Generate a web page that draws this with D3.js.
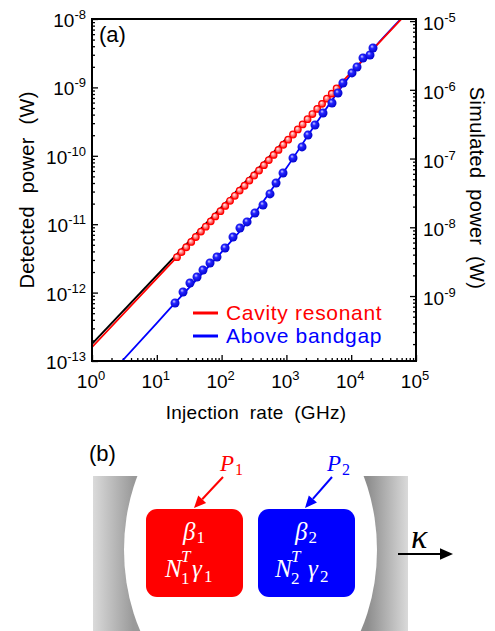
<!DOCTYPE html>
<meta charset="utf-8">
<script src="https://cdn.jsdelivr.net/npm/d3@7"></script>
<style>
    body { margin: 0; background: #fff; }
    text { font-family: "Liberation Sans", Arial, sans-serif; }
</style>
<body>
<svg width="495" height="631"></svg>
</body>
<script>

    // 测量值：腔共振激发（红点），探测功率 (W)
    var redX = [20.5, 24, 28.5, 34, 40, 48, 57, 68, 80, 96, 114, 135, 160, 190, 226, 268, 318, 378,
        450, 535, 635, 755, 895, 1065, 1265, 1500, 1780, 2120, 2520, 2990, 3550, 4220, 5010, 5950];
    var redY = [3.3e-12, 3.9e-12, 4.6e-12, 5.5e-12, 6.5e-12, 7.8e-12, 9.2e-12, 1.1e-11, 1.3e-11, 1.55e-11,
        1.85e-11, 2.2e-11, 2.6e-11, 3.1e-11, 3.65e-11, 4.35e-11, 5.15e-11, 6.1e-11, 7.3e-11, 8.65e-11,
        1.03e-10, 1.22e-10, 1.45e-10, 1.72e-10, 2.05e-10, 2.43e-10, 2.88e-10, 3.43e-10, 4.08e-10,
        4.85e-10, 5.75e-10, 6.85e-10, 8.1e-10, 9.65e-10];

    // 测量值：带隙以上激发（蓝点）
    var blueX = [19.1, 25.4, 32.5, 41.7, 51.6, 66.2, 84.9, 113, 150, 192, 247, 327, 436, 558, 692, 887,
        1265, 1742, 2153, 2761, 3673, 5058, 6252, 7464, 10280, 12300, 15200, 19500, 21700];
    var blueY = [7.05e-13, 1.02e-12, 1.38e-12, 1.69e-12, 2.14e-12, 2.71e-12, 3.31e-12, 4.49e-12, 6.5e-12,
        8.79e-12, 1.08e-11, 1.46e-11, 1.91e-11, 2.77e-11, 4.0e-11, 5.61e-11, 9.29e-11, 1.35e-10,
        2.01e-10, 2.82e-10, 4.23e-10, 5.92e-10, 8.28e-10, 1.16e-9, 1.63e-9, 1.99e-9, 2.69e-9,
        2.98e-9, 3.77e-9];

    // 模拟曲线（右轴）
    var redSimX = [1, 10, 100, 1000, 10000, 100000];
    var redSimY = [1.8e-10, 1.8e-9, 1.8e-8, 1.8e-7, 1.8e-6, 1.8e-5];
    var blueSimX = [2.9, 10, 19, 100, 300, 1000, 3000, 10000, 30000, 100000];
    var blueSimY = [1.13e-10, 4.05e-10, 7.9e-10, 4.36e-9, 1.46e-8, 7.27e-8, 3.45e-7, 1.69e-6, 5.5e-6, 1.82e-5];

    // 线性参考线（左轴）
    var blackX = [1, 1000];
    var blackY = [1.78e-13, 1.78e-10];

    // 刻度
    var xTicks = [1, 10, 100, 1e3, 1e4, 1e5],
        xTickExp = ["0", "1", "2", "3", "4", "5"];
    var yLeftTicks = [1e-13, 1e-12, 1e-11, 1e-10, 1e-9, 1e-8],
        yLeftExp = ["-13", "-12", "-11", "-10", "-9", "-8"];
    var yRightTicks = [1e-9, 1e-8, 1e-7, 1e-6, 1e-5],
        yRightExp = ["-9", "-8", "-7", "-6", "-5"];

    var legendNames = ["Cavity resonant", "Above bandgap"],
        legendColors = ["#ff0000", "#0000ff"];

    var red = "#ff0000", blue = "#0000ff";

    var svg = d3.select("svg");
    var defs = svg.append("defs");

    var pL = 92, pR = 416, pT = 19, pB = 361;

    var x = d3.scaleLog().domain([1, 1e5]).range([pL, pR]);
    var yL = d3.scaleLog().domain([1e-13, 1e-8]).range([pB, pT]);
    var yR = d3.scaleLog().domain([Math.pow(10, -9.945), Math.pow(10, -4.97)]).range([pB, pT]);

    defs.append("clipPath").attr("id", "plotClip")
        .append("rect").attr("x", pL).attr("y", pT)
        .attr("width", pR - pL).attr("height", pB - pT);

    //球形点的渐变
    function ball(id, light, mid, dark, midOff) {
        var gr = defs.append("radialGradient").attr("id", id)
            .attr("cx", "45%").attr("cy", "45%").attr("r", "60%")
            .attr("fx", "38%").attr("fy", "32%");
        gr.append("stop").attr("offset", "0%").attr("stop-color", light);
        gr.append("stop").attr("offset", midOff).attr("stop-color", mid);
        gr.append("stop").attr("offset", "100%").attr("stop-color", dark);
    }
    ball("ballRed", "#fff0f0", "#ff9090", "#ff0000", "40%");
    ball("ballBlue", "#d0d0ff", "#2424ff", "#0000c8", "35%");

    // ---------- (b) 图：腔体示意 ----------
    var gB = svg.append("g");
    var gradL = defs.append("linearGradient").attr("id", "grayL");
    gradL.append("stop").attr("offset", "0%").attr("stop-color", "#dadada");
    gradL.append("stop").attr("offset", "65%").attr("stop-color", "#9a9a9a");
    var gradR = defs.append("linearGradient").attr("id", "grayR");
    gradR.append("stop").attr("offset", "35%").attr("stop-color", "#8e8e8e");
    gradR.append("stop").attr("offset", "100%").attr("stop-color", "#dadada");

    defs.append("clipPath").attr("id", "bClip")
        .append("rect").attr("x", 0).attr("y", 476).attr("width", 495).attr("height", 155);

    gB.append("rect").attr("x", 93).attr("y", 476).attr("width", 62).attr("height", 155).attr("fill", "url(#grayL)");
    gB.append("rect").attr("x", 346).attr("y", 476).attr("width", 62).attr("height", 155).attr("fill", "url(#grayR)");
    gB.append("ellipse").attr("clip-path", "url(#bClip)")
        .attr("cx", 250.5).attr("cy", 550).attr("rx", 126.5).attr("ry", 165).attr("fill", "#fff");

    var boxes = [
        {x: 146, c: red, n: "1", nx: 19, gx: 46},
        {x: 258, c: blue, n: "2", nx: 17, gx: 50}
    ];
    var serif = '"Liberation Serif", "Times New Roman", serif';
    boxes.forEach(function (b) {
        gB.append("rect").attr("x", b.x).attr("y", 509).attr("width", 97).attr("height", 88)
            .attr("rx", 11).attr("fill", b.c);
        var t1 = gB.append("text").attr("x", b.x + 48).attr("y", 540).attr("text-anchor", "middle")
            .attr("fill", "#fff").style("font-family", serif).attr("font-size", 25);
        t1.append("tspan").attr("font-style", "italic").text("β");
        t1.append("tspan").attr("font-size", 17).attr("dy", 3).attr("dx", 1).text(b.n);

        gB.append("text").attr("x", b.x + b.nx).attr("y", 577).attr("fill", "#fff")
            .style("font-family", serif).attr("font-size", 25).attr("font-style", "italic").text("N");
        gB.append("text").attr("x", b.x + b.nx + 16).attr("y", 562).attr("fill", "#fff")
            .style("font-family", serif).attr("font-size", 17).attr("font-style", "italic").text("T");
        gB.append("text").attr("x", b.x + b.nx + 16).attr("y", 584).attr("fill", "#fff")
            .style("font-family", serif).attr("font-size", 17).text(b.n);
        gB.append("text").attr("x", b.x + b.gx).attr("y", 577).attr("fill", "#fff")
            .style("font-family", serif).attr("font-size", 25).attr("font-style", "italic").text("γ");
        gB.append("text").attr("x", b.x + b.gx + 12).attr("y", 582).attr("fill", "#fff")
            .style("font-family", serif).attr("font-size", 17).text(b.n);
    });

    //箭头
    function arrow(x1, y1, x2, y2, color, w, head) {
        var ang = Math.atan2(y2 - y1, x2 - x1);
        var bx = x2 - head * Math.cos(ang), by = y2 - head * Math.sin(ang);
        gB.append("line").attr("x1", x1).attr("y1", y1).attr("x2", bx).attr("y2", by)
            .attr("stroke", color).attr("stroke-width", w);
        var hw = head * 0.45;
        var p = [[x2, y2],
            [bx + hw * Math.sin(ang), by - hw * Math.cos(ang)],
            [bx - hw * Math.sin(ang), by + hw * Math.cos(ang)]];
        gB.append("path").attr("d", "M" + p.join("L") + "Z").attr("fill", color);
    }
    arrow(223, 477, 194, 508, red, 2, 12);
    arrow(332, 477, 305, 508, blue, 2, 12);
    arrow(398, 554, 453, 554, "#000", 2, 13);

    [{x: 220, c: red, n: "1"}, {x: 327, c: blue, n: "2"}].forEach(function (p) {
        var t = gB.append("text").attr("x", p.x).attr("y", 471).attr("fill", p.c)
            .style("font-family", serif).attr("font-size", 23);
        t.append("tspan").attr("font-style", "italic").text("P");
        t.append("tspan").attr("font-size", 16).attr("dy", 4).attr("dx", 1).text(p.n);
    });
    gB.append("text").attr("x", 411).attr("y", 548).style("font-family", serif)
        .attr("font-size", 34).attr("font-style", "italic").text("κ");
    gB.append("text").attr("x", 89).attr("y", 461).attr("font-size", 22).text("(b)");

    // ---------- (a) 图 ----------
    var g = svg.append("g");

    //坐标轴（刻度朝内）
    var xMinor = x.ticks().filter(function (d) { return xTicks.indexOf(d) < 0; });
    var yLMinor = yL.ticks().filter(function (d) { return yLeftTicks.indexOf(d) < 0; });
    var yRMinor = yR.ticks().filter(function (d) { return yRightTicks.indexOf(d) < 0 && d < 1e-5; });

    function drawAxis(axis, tx, ty) {
        var a = g.append("g").attr("transform", "translate(" + tx + "," + ty + ")").call(axis);
        a.select(".domain").remove();
        a.selectAll("line").attr("stroke", "#000").attr("stroke-width", 1.3);
        return a;
    }
    drawAxis(d3.axisBottom(x).tickValues(xTicks).tickSize(-6).tickFormat(""), 0, pB);
    drawAxis(d3.axisBottom(x).tickValues(xMinor).tickSize(-3).tickFormat(""), 0, pB);
    drawAxis(d3.axisLeft(yL).tickValues(yLeftTicks).tickSize(-6).tickFormat(""), pL, 0);
    drawAxis(d3.axisLeft(yL).tickValues(yLMinor).tickSize(-3).tickFormat(""), pL, 0);
    drawAxis(d3.axisRight(yR).tickValues(yRightTicks).tickSize(-6).tickFormat(""), pR, 0);
    drawAxis(d3.axisRight(yR).tickValues(yRMinor).tickSize(-3).tickFormat(""), pR, 0);

    //刻度标签 10^n
    function powLabel(t, exp) {
        t.append("tspan").text("10");
        t.append("tspan").attr("dy", -8).attr("font-size", 13).text(exp);
    }
    xTicks.forEach(function (d, i) {
        var t = g.append("text").attr("x", x(d) - 1).attr("y", 388)
            .attr("text-anchor", "middle").attr("font-size", 19);
        powLabel(t, xTickExp[i]);
    });
    yLeftTicks.forEach(function (d, i) {
        var t = g.append("text").attr("x", 86).attr("y", yL(d) + 8)
            .attr("text-anchor", "end").attr("font-size", 19);
        powLabel(t, yLeftExp[i]);
    });
    yRightTicks.forEach(function (d, i) {
        var t = g.append("text").attr("x", 423).attr("y", yR(d) + 9)
            .attr("font-size", 19);
        powLabel(t, yRightExp[i]);
    });

    //轴标题
    g.append("text").attr("x", 256).attr("y", 419).attr("text-anchor", "middle")
        .attr("font-size", 19).style("word-spacing", "5px").style("letter-spacing", "0.3px")
        .text("Injection rate (GHz)");
    g.append("text").attr("transform", "translate(34,190) rotate(-90)").attr("text-anchor", "middle")
        .attr("font-size", 20).style("word-spacing", "7px").style("letter-spacing", "0.3px")
        .text("Detected power (W)");
    g.append("text").attr("transform", "translate(470,188) rotate(90)").attr("text-anchor", "middle")
        .attr("font-size", 20).style("word-spacing", "5px").style("letter-spacing", "0.3px")
        .text("Simulated power (W)");

    //曲线
    var plot = g.append("g").attr("clip-path", "url(#plotClip)");
    var lineR = d3.line().x(function (d) { return x(d[0]); }).y(function (d) { return yR(d[1]); })
        .curve(d3.curveMonotoneX);
    var lineL = d3.line().x(function (d) { return x(d[0]); }).y(function (d) { return yL(d[1]); });

    plot.append("path").datum(d3.zip(blackX, blackY)).attr("d", lineL)
        .attr("fill", "none").attr("stroke", "#000").attr("stroke-width", 2);
    plot.append("path").datum(d3.zip(blueSimX, blueSimY)).attr("d", lineR)
        .attr("fill", "none").attr("stroke", blue).attr("stroke-width", 1.8);
    plot.append("path").datum(d3.zip(redSimX, redSimY)).attr("d", lineR)
        .attr("fill", "none").attr("stroke", red).attr("stroke-width", 1.8);

    plot.selectAll(".rdot").data(d3.zip(redX, redY)).enter().append("circle")
        .attr("cx", function (d) { return x(d[0]); })
        .attr("cy", function (d) { return yL(d[1]); })
        .attr("r", 3.3).attr("fill", "url(#ballRed)").attr("stroke", red).attr("stroke-width", 1.2);
    plot.selectAll(".bdot").data(d3.zip(blueX, blueY)).enter().append("circle")
        .attr("cx", function (d) { return x(d[0]); })
        .attr("cy", function (d) { return yL(d[1]); })
        .attr("r", 4.5).attr("fill", "url(#ballBlue)");

    //边框
    g.append("rect").attr("x", pL).attr("y", pT).attr("width", pR - pL).attr("height", pB - pT)
        .attr("fill", "none").attr("stroke", "#000").attr("stroke-width", 2);

    g.append("text").attr("x", 99).attr("y", 42).attr("font-size", 22).text("(a)");

    //图例
    legendNames.forEach(function (name, i) {
        var yy = 313 + i * 23;
        g.append("line").attr("x1", 193).attr("x2", 218).attr("y1", yy).attr("y2", yy)
            .attr("stroke", legendColors[i]).attr("stroke-width", 3);
        g.append("text").attr("x", 226).attr("y", yy + 7).attr("font-size", 21)
            .style("letter-spacing", "0.7px")
            .attr("fill", legendColors[i]).text(name);
    });

</script>
